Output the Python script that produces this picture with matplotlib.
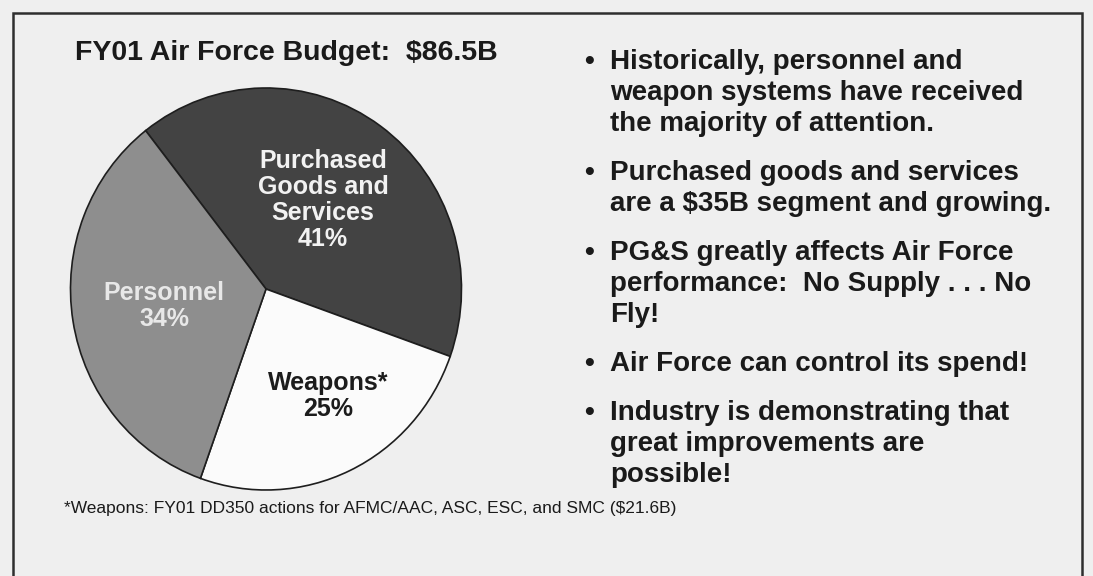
import matplotlib.pyplot as plt
from matplotlib.patches import Rectangle

W, H = 1093, 576

# data
categories = ['Purchased\nGoods and\nServices', 'Weapons*', 'Personnel']
shares = [41, 25, 34]
slice_colors = ['#434343', '#fbfbfb', '#8e8e8e']
label_colors = ['#f2f2f2', '#1c1c1c', '#e8e8e8']

title = 'FY01 Air Force Budget:  $86.5B'
bullets = [
    ['Historically, personnel and', 'weapon systems have received', 'the majority of attention.'],
    ['Purchased goods and services', 'are a $35B segment and growing.'],
    ['PG&S greatly affects Air Force', 'performance:  No Supply . . . No', 'Fly!'],
    ['Air Force can control its spend!'],
    ['Industry is demonstrating that', 'great improvements are', 'possible!'],
]
footnote = '*Weapons: FY01 DD350 actions for AFMC/AAC, ASC, ESC, and SMC ($21.6B)'

plt.rcParams['font.family'] = ['Liberation Sans', 'DejaVu Sans']


def px(x, y):
    # pixel position -> figure fraction
    return x / W, 1 - y / H


fig = plt.figure(figsize=(W / 100, H / 100), dpi=100)
fig.patch.set_facecolor('#efefef')

# slide frame
fig.patches.append(Rectangle(px(12.5, 600), (1082 - 12.5) / W, (600 - 12.5) / H,
                             transform=fig.transFigure, fill=False,
                             edgecolor='#2e2e2e', linewidth=1.8))

# pie
ax = fig.add_axes([70.5 / W, (H - 490) / H, 391 / W, 402 / H])
percents = ['%d%%' % s for s in shares]
wedges, texts = ax.pie(shares, colors=slice_colors, startangle=128, counterclock=False,
                       wedgeprops=dict(edgecolor='#1e1e1e', linewidth=1.2))
ax.set_aspect('auto')
ax.set_xlim(-1, 1)
ax.set_ylim(-1, 1)
ax.axis('off')

label_pos = [(323, 149), (328, 371), (164, 281)]
for name, pct, col, (lx, ly) in zip(categories, percents, label_colors, label_pos):
    fig.text(*px(lx, ly), name + '\n' + pct, ha='center', va='top', color=col,
             fontsize=18, fontweight='bold', linespacing=1.1)

fig.text(*px(75, 60), title, ha='left', va='baseline', fontsize=20.5,
         fontweight='bold', color='#1a1a1a')

# bullets
line_step = 31
y = 69
for lines in bullets:
    fig.text(*px(584, y), '\u2022', ha='left', va='baseline', fontsize=20,
             fontweight='bold', color='#1a1a1a')
    for line in lines:
        fig.text(*px(610, y), line, ha='left', va='baseline', fontsize=20,
                 fontweight='bold', color='#1a1a1a')
        y += line_step
    y += 18

fig.text(*px(64, 513), footnote, ha='left', va='baseline', fontsize=12.5,
         color='#1a1a1a')

fig.savefig('out.png', dpi=100, facecolor=fig.get_facecolor())
